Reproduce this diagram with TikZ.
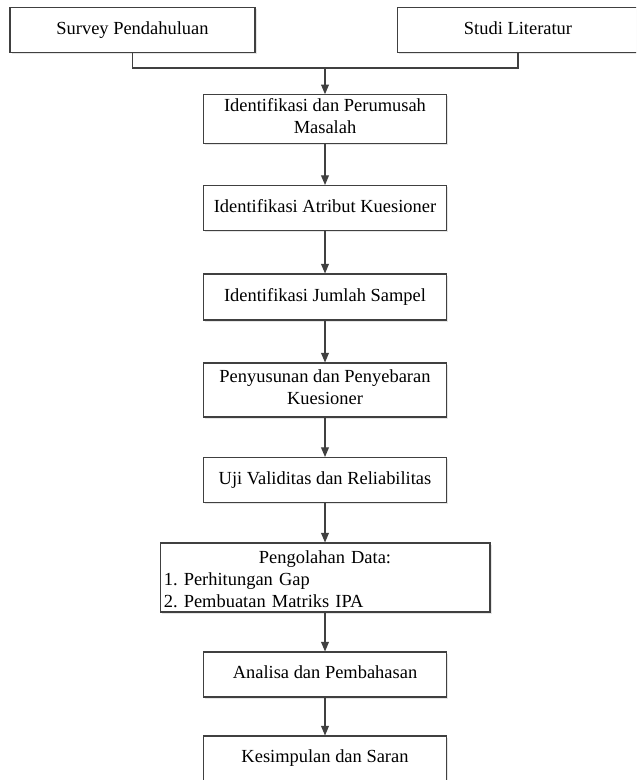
\documentclass[tikz,border=0pt]{standalone}
\usepackage{fontspec}
\setmainfont{Liberation Serif}
\usetikzlibrary{arrows.meta,shadows}

\tikzset{
    box/.style={draw=black!75, line width=0.6pt, fill=white, inner sep=2pt,
        minimum width=4.86cm, minimum height=0.9cm, align=center,
        execute at begin node=\strut,
        drop shadow={shadow xshift=1pt, shadow yshift=-1pt, fill=black!20}},
    line/.style={draw=black!75, line width=0.6pt},
    arrow/.style={line, -{Triangle[length=5.5pt,width=4.5pt]}}
}

\begin{document}
\frenchspacing
\begin{tikzpicture}[x=0.02cm, y=-0.02cm, font=\fontsize{10.5}{12.5}\selectfont]
    \useasboundingbox (0,0) rectangle (636,780);
    \clip (0,0) rectangle (636,780);

    % top row
    \node[box, minimum width=4.9cm] (survey) at (132.5,30) {Survey Pendahuluan};
    \node[box, minimum width=4.84cm] (studi) at (518,30) {Studi Literatur};
    \coordinate (join) at (325,68);

    % main column
    \node[box] (ident) at (325,119) {Identifikasi dan Perumusah\\Masalah};
    \node[box] (atribut) at (325,208) {Identifikasi Atribut Kuesioner};
    \node[box, minimum height=0.92cm] (jumlah) at (325,297) {Identifikasi Jumlah Sampel};
    \node[box, minimum height=1.08cm] (susun) at (325,390) {Penyusunan dan Penyebaran\\Kuesioner};
    \node[box] (uji) at (325,480) {Uji Validitas dan Reliabilitas};
    \node[box, minimum width=6.6cm, minimum height=1.38cm, text width=6.45cm, align=left] (olah) at (325,577.5)
        {\makebox[6.45cm]{Pengolahan Data:}\\1. Perhitungan Gap\\2. Pembuatan Matriks IPA};
    \node[box] (analisa) at (325,674.5) {Analisa dan Pembahasan};
    \node[box] (simpul) at (325,758.5) {Kesimpulan dan Saran};

    % connectors
    \draw[line] (survey.south) |- (join) -| (studi.south);
    \draw[arrow] (join) -- (ident);
    \draw[arrow] (ident) -- (atribut);
    \draw[arrow] (atribut) -- (jumlah);
    \draw[arrow] (jumlah) -- (susun);
    \draw[arrow] (susun) -- (uji);
    \draw[arrow] (uji) -- (olah);
    \draw[arrow] (olah) -- (analisa);
    \draw[arrow] (analisa) -- (simpul);
\end{tikzpicture}
\end{document}
